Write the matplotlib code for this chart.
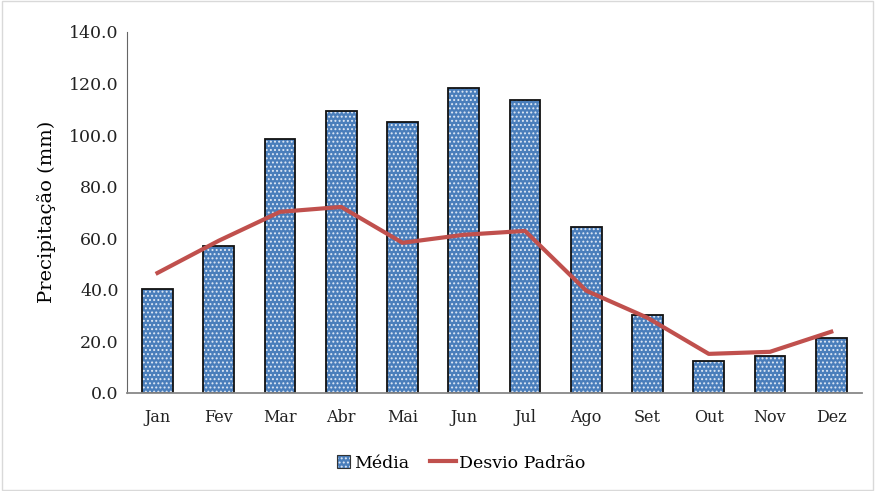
import matplotlib.pyplot as plt
import matplotlib.patches as mpatches
from matplotlib.legend_handler import HandlerPatch, HandlerTuple
import numpy as np

plt.rcParams['font.family'] = ['DejaVu Serif']
plt.rcParams['hatch.linewidth'] = 0.9

meses = ["Jan", "Fev", "Mar", "Abr", "Mai", "Jun", "Jul", "Ago", "Set", "Out", "Nov", "Dez"]
media = [40.3, 57.0, 98.5, 109.3, 105.1, 118.3, 113.6, 64.4, 30.2, 12.4, 14.3, 21.3]
desvio = [46.5, 59.0, 70.2, 72.1, 58.2, 61.3, 62.8, 39.6, 29.1, 15.1, 15.9, 23.7]

fig = plt.figure(figsize=(8.75, 4.91), dpi=100)
ax = fig.add_axes([0.145, 0.2, 0.84, 0.735])

x = np.arange(len(meses))
# barras: preenchimento pontilhado + contorno preto
b1 = ax.bar(x, media, width=0.5, color="#4a7ebb", edgecolor="#dfe8f5", hatch="....", linewidth=0)
b2 = ax.bar(x, media, width=0.5, color="none", edgecolor="#111111", linewidth=1.3)
ln, = ax.plot(x, desvio, color="#c0504d", linewidth=3)

ax.set_xlim(-0.5, len(meses) - 0.5)
ax.set_ylim(0, 140)
ax.set_yticks(np.arange(0, 141, 20))
ax.set_yticklabels([f"{v:.1f}" for v in np.arange(0, 141, 20)])
ax.set_xticks(x)
ax.set_xticklabels(meses)
ax.tick_params(length=0, labelsize=12.5, colors="#222222")
ax.tick_params(axis="x", labelsize=11.5, pad=12)
ax.tick_params(axis="y", pad=6)

ax.spines["top"].set_visible(False)
ax.spines["right"].set_visible(False)
ax.spines["left"].set_color("#666666")
ax.spines["bottom"].set_color("#888888")
ax.spines["bottom"].set_linewidth(1.3)

ax.set_ylabel("Precipitação (mm)", fontsize=14, labelpad=9)


# quadradinho na legenda
def quadrado(legend, orig_handle, xdescent, ydescent, width, height, fontsize):
    lado = height * 1.1
    return mpatches.Rectangle((width - lado - xdescent, -ydescent + (height - lado) / 2), lado, lado)


p1 = mpatches.Patch(facecolor="#4a7ebb", edgecolor="#dfe8f5", hatch="....", linewidth=0)
p2 = mpatches.Patch(facecolor="none", edgecolor="#333333", linewidth=0.8)
hq = HandlerPatch(patch_func=quadrado)

fig.legend([(p1, p2), ln], ["Média", "Desvio Padrão"], loc="center",
           bbox_to_anchor=(0.52, 0.057), ncol=2, frameon=False, fontsize=12.5,
           handlelength=1.5, handletextpad=0.2, columnspacing=1.2,
           handler_map={mpatches.Patch: hq, tuple: HandlerTuple(ndivide=1)})

fig.patches.append(plt.Rectangle((0.002, 0.002), 0.996, 0.996, transform=fig.transFigure,
                                 fill=False, edgecolor="#d9d9d9", linewidth=1))

plt.savefig("out.png")
